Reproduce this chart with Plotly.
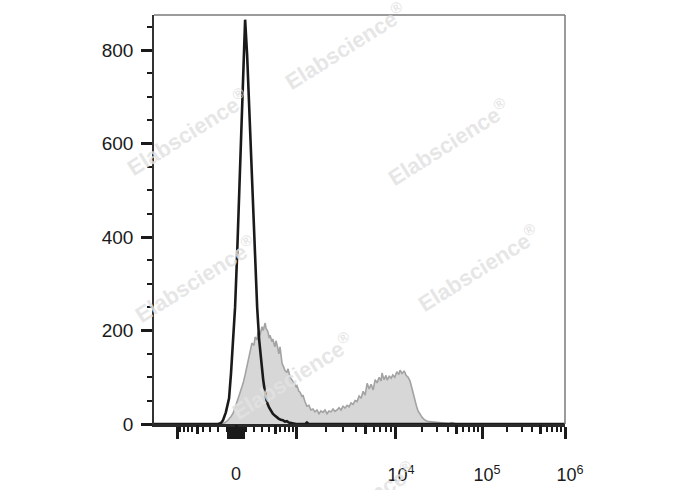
import numpy as np
import plotly.graph_objects as go

# ---------------- data (histogram counts per display channel, 0-1024 biex scale) ----------------
unstained_ch = [0, 160, 167, 172, 179, 187, 192, 197, 202, 207, 212, 217, 222, 227, 232, 237, 242,
                247, 252, 257, 262, 267, 272, 277, 282, 287, 292, 296, 301, 306, 311, 316, 321, 326,
                331, 336, 341, 346, 354, 377, 381, 385, 1024]
unstained_cnt = [0, 0, 2, 8, 25, 55, 110, 180, 250, 360, 480, 620, 760, 865, 790, 680, 560,
                 450, 340, 250, 180, 130, 95, 65, 45, 35, 27, 22, 18, 14, 11, 9, 8, 5,
                 6, 3, 2, 1, 0, 0, 3, 0, 0]

stained_ch = [0, 169, 177, 184, 192, 197, 202, 207, 212, 217, 222, 227, 232, 237, 242, 244, 249,
              252, 257, 259, 264, 269, 272, 277, 279, 284, 287, 289, 294, 296, 301, 304, 309, 311,
              314, 319, 324, 326, 331, 334, 339, 344, 349, 354, 356, 361, 364, 369, 371, 376, 381,
              386, 391, 396, 401, 406, 411, 416, 421, 426, 431, 436, 441, 446, 451, 456, 461, 466,
              471, 476, 481, 486, 491, 496, 501, 506, 511, 516, 521, 526, 531, 536, 541, 546, 551,
              556, 561, 566, 568, 573, 578, 581, 586, 591, 595, 600, 605, 610, 613, 618, 623, 625,
              628, 633, 638, 640, 645, 650, 655, 658, 663, 668, 673, 678, 685, 695, 705, 715, 725,
              735, 742, 750, 762, 1024]
stained_cnt = [0, 0, 3, 8, 16, 23, 35, 48, 60, 74, 87, 105, 125, 145, 160, 173, 168,
               186, 180, 196, 190, 208, 200, 216, 205, 197, 184, 190, 176, 182, 165, 178, 160, 150,
               165, 130, 120, 115, 110, 118, 100, 95, 88, 80, 82, 70, 68, 58, 62, 48, 38,
               40, 30, 32, 26, 30, 22, 28, 25, 30, 22, 28, 26, 32, 27, 30, 35, 30,
               38, 34, 40, 37, 45, 42, 50, 48, 60, 55, 70, 62, 87, 75, 85, 73, 95,
               88, 100, 92, 109, 95, 104, 94, 102, 98, 105, 100, 112, 106, 115, 108, 113, 111,
               104, 100, 92, 85, 66, 50, 35, 28, 20, 14, 10, 7, 5, 4, 3, 2, 2,
               1, 3, 1, 0, 0]

# axis tick values (fluorescence intensity) and labels
x_major_vals = [-1000, -80, -70, -60, -50, -40, -30, -20, -10, 0,
                10, 20, 30, 40, 50, 60, 70, 80, 1000, 1e4, 1e5, 1e6]
x_major_text = [""] * 19 + ["10<sup>4</sup>", "10<sup>5</sup>", "10<sup>6</sup>"]
x_medium_vals = [-500, 500, 5e3, 5e4, 5e5, 0]
x_medium_text = ["", "", "", "", "", "0"]
x_minor_vals = ([-900, -800, -700, -600, -400, -300, -200, -100,
                 100, 200, 300, 400, 600, 700, 800, 900]
                + [m * 1e3 for m in (2, 3, 4, 6, 7, 8, 9)]
                + [m * 1e4 for m in (2, 3, 4, 6, 7, 8, 9)]
                + [m * 1e5 for m in (2, 3, 4, 6, 7, 8, 9)])
y_major_vals = [0, 200, 400, 600, 800]
y_minor_vals = [50, 100, 150, 250, 300, 350, 450, 500, 550, 650, 700, 750, 850]
y_range = [0, 875]
x_range = [0, 1024]

# biexponential display scale: intensity -> display channel
BIEX_C = 350.0
BIEX_VALS = [-1e3, 0, 1e3, 1e4, 1e5, 1e6]
BIEX_CH = [57.3, 204.3, 353.8, 602.9, 817.2, 1024.0]


def biex(v):
    a = np.arcsinh(np.asarray(v, dtype=float) / BIEX_C)
    ref = np.arcsinh(np.asarray(BIEX_VALS, dtype=float) / BIEX_C)
    return np.interp(a, ref, BIEX_CH).tolist()


FONT = "Liberation Sans, Arial, sans-serif"

fig = go.Figure()
fig.add_trace(go.Scatter(x=stained_ch, y=stained_cnt, mode="lines", fill="tozeroy",
                         fillcolor="#d7d7d7", line=dict(color="#a3a3a3", width=1.6),
                         hoverinfo="skip"))
fig.add_trace(go.Scatter(x=unstained_ch, y=unstained_cnt, mode="lines", xaxis="x2",
                         line=dict(color="#1a1a1a", width=2.6), hoverinfo="skip"))

fig.update_layout(
    width=688, height=490,
    margin=dict(l=154, r=123, t=15, b=66),
    plot_bgcolor="white", paper_bgcolor="white",
    showlegend=False,
    font=dict(family=FONT, size=18, color="#1a1a1a"),
    xaxis=dict(
        range=x_range, tickmode="array", tickvals=biex(x_major_vals), ticktext=x_major_text,
        ticks="outside", ticklen=12, tickwidth=3, tickcolor="#1a1a1a",
        showline=True, linecolor="#2a2a2a", linewidth=2.6, automargin=False,
        showgrid=False, zeroline=False, ticklabelshift=5, ticklabelstandoff=21,
        tickfont=dict(size=18),
        minor=dict(tickmode="array", tickvals=biex(x_minor_vals), ticks="outside",
                   ticklen=5, tickwidth=2, tickcolor="#1a1a1a", showgrid=False),
    ),
    xaxis2=dict(
        overlaying="x", anchor="y", side="bottom", range=x_range, automargin=False,
        tickmode="array", tickvals=biex(x_medium_vals), ticktext=x_medium_text,
        ticks="outside", ticklen=9, tickwidth=2.5, tickcolor="#1a1a1a",
        showline=False, showgrid=False, zeroline=False, ticklabelstandoff=24,
        tickfont=dict(size=18),
    ),
    yaxis=dict(
        range=y_range, tickmode="array", tickvals=y_major_vals, automargin=False,
        ticks="outside", ticklen=11, tickwidth=3, tickcolor="#1a1a1a",
        showline=True, linecolor="#333333", linewidth=1.5,
        showgrid=False, zeroline=False, ticklabelstandoff=4,
        tickfont=dict(size=19),
        minor=dict(tickmode="array", tickvals=y_minor_vals, ticks="outside",
                   ticklen=5, tickwidth=2, tickcolor="#1a1a1a", showgrid=False),
    ),
)

# frame (top and right)
fig.add_shape(type="line", xref="paper", yref="paper", x0=0, x1=1, y0=1, y1=1,
              line=dict(color="#7a7a7a", width=1.5))
fig.add_shape(type="line", xref="paper", yref="paper", x0=1, x1=1, y0=0, y1=1,
              line=dict(color="#7a7a7a", width=1.5))

# watermark
wm_px = [(345, 46), (448, 142), (187, 132), (195, 279), (478, 268), (292, 376), (354, 505)]
for px, py in wm_px:
    fig.add_annotation(text="Elabscience<sup>®</sup>", xref="paper", yref="paper",
                       x=(px - 154) / 411, y=(424 - py) / 409, showarrow=False,
                       xanchor="center", yanchor="middle", textangle=-32,
                       font=dict(family=FONT, size=22, color="rgba(226,226,226,0.85)",
                                 weight="bold"))

fig.write_html("out.html", config={"displayModeBar": False},
               post_script="document.body.style.margin='0';")
